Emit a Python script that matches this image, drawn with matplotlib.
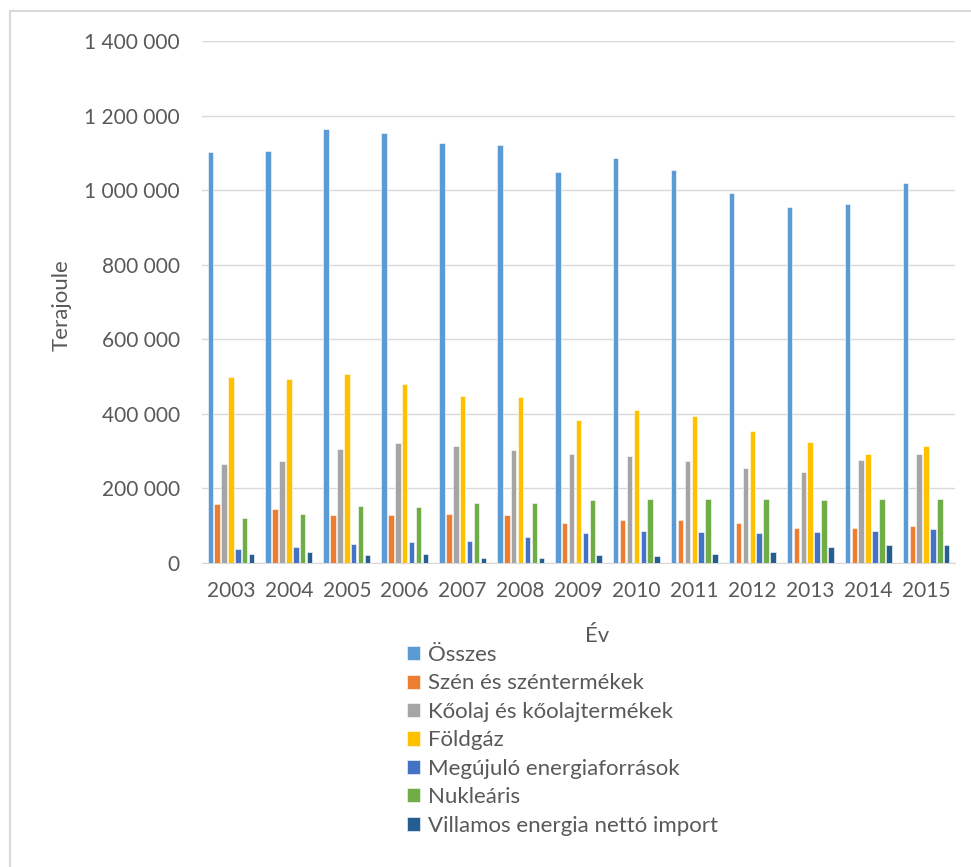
import numpy as np
import matplotlib
matplotlib.use('Agg')
import matplotlib.pyplot as plt
from matplotlib.ticker import FuncFormatter

plt.rcParams['font.family'] = ['Lato', 'DejaVu Sans']

# adatok (terajoule), leolvasva az abrarol
evek = ['2003', '2004', '2005', '2006', '2007', '2008', '2009',
        '2010', '2011', '2012', '2013', '2014', '2015']
osszes = [1101000, 1106000, 1164000, 1154000, 1126000, 1120000, 1050000,
          1085000, 1054000, 992000, 954000, 964000, 1020000]
szen = [159000, 145000, 128000, 128000, 132000, 128000, 108000,
        114000, 114000, 108000, 93000, 93000, 100000]
koolaj = [266000, 273000, 307000, 321000, 315000, 304000, 293000,
          286000, 273000, 256000, 245000, 276000, 293000]
foldgaz = [500000, 493000, 507000, 480000, 448000, 445000, 383000,
           410000, 393000, 353000, 325000, 293000, 314000]
megujulo = [38000, 42000, 52000, 56000, 59000, 69000, 80000,
            86000, 83000, 80000, 83000, 86000, 90000]
nuklearis = [121000, 132000, 152000, 149000, 162000, 162000, 170000,
             172000, 172000, 172000, 170000, 172000, 172000]
import_villamos = [25000, 29000, 21500, 25000, 14000, 14000, 21500,
                   18000, 25000, 29000, 42000, 49000, 49000]

sorozatok = [osszes, szen, koolaj, foldgaz, megujulo, nuklearis, import_villamos]
nevek = ['Összes', 'Szén és széntermékek', 'Kőolaj és kőolajtermékek', 'Földgáz',
         'Megújuló energiaforrások', 'Nukleáris', 'Villamos energia nettó import']
szinek = ['#5B9BD5', '#ED7D31', '#A5A5A5', '#FFC000', '#4472C4', '#70AD47', '#255E91']

szurke = '#595959'

fig = plt.figure(figsize=(9.71, 8.67), dpi=100)
ax = fig.add_axes([202/971, 1-563/867, (955-202)/971, (563-41)/867])

x = np.arange(len(evek))
lepes = 0.119
szel = 0.095
for i, (adat, nev, szin) in enumerate(zip(sorozatok, nevek, szinek)):
    ax.bar(x + (i-3)*lepes, adat, width=szel, color=szin, label=nev,
           edgecolor='white', linewidth=0.4, zorder=3)

ax.set_xlim(-0.5, len(evek)-0.5)
ax.set_ylim(0, 1400000)
ax.set_yticks(np.arange(0, 1400001, 200000))
ax.yaxis.set_major_formatter(FuncFormatter(lambda v, p: f'{int(v):,}'.replace(',', ' ')))
ax.set_xticks(x)
ax.set_xticklabels(evek)
ax.grid(axis='y', color='#D9D9D9', linewidth=1, zorder=0)
for s in ['top', 'right', 'left']:
    ax.spines[s].set_visible(False)
ax.spines['bottom'].set_color('#D9D9D9')
ax.tick_params(axis='both', length=0, labelsize=15, colors=szurke)
ax.tick_params(axis='y', pad=16)
ax.tick_params(axis='x', pad=13)

fig.text(62/971, 1-305/867, 'Terajoule', rotation=90, ha='center', va='center',
         fontsize=16, color=szurke)
fig.text(597/971, 1-636/867, 'Év', ha='center', va='center', fontsize=16, color=szurke)

leg = fig.legend(loc='upper left', bbox_to_anchor=(407/971, 1-645/867), frameon=False,
                 fontsize=16, handlelength=0.6, handleheight=0.6, handletextpad=0.35,
                 labelspacing=0.38, borderaxespad=0, borderpad=0)
for t in leg.get_texts():
    t.set_color(szurke)

# keret
fig.add_artist(plt.Line2D([10/971, 10/971], [0, 1-11/867], transform=fig.transFigure,
                          color='#D9D9D9', linewidth=1.5))
fig.add_artist(plt.Line2D([10/971, 1], [1-11/867, 1-11/867], transform=fig.transFigure,
                          color='#D9D9D9', linewidth=1.5))

fig.savefig('out.png', dpi=100)
